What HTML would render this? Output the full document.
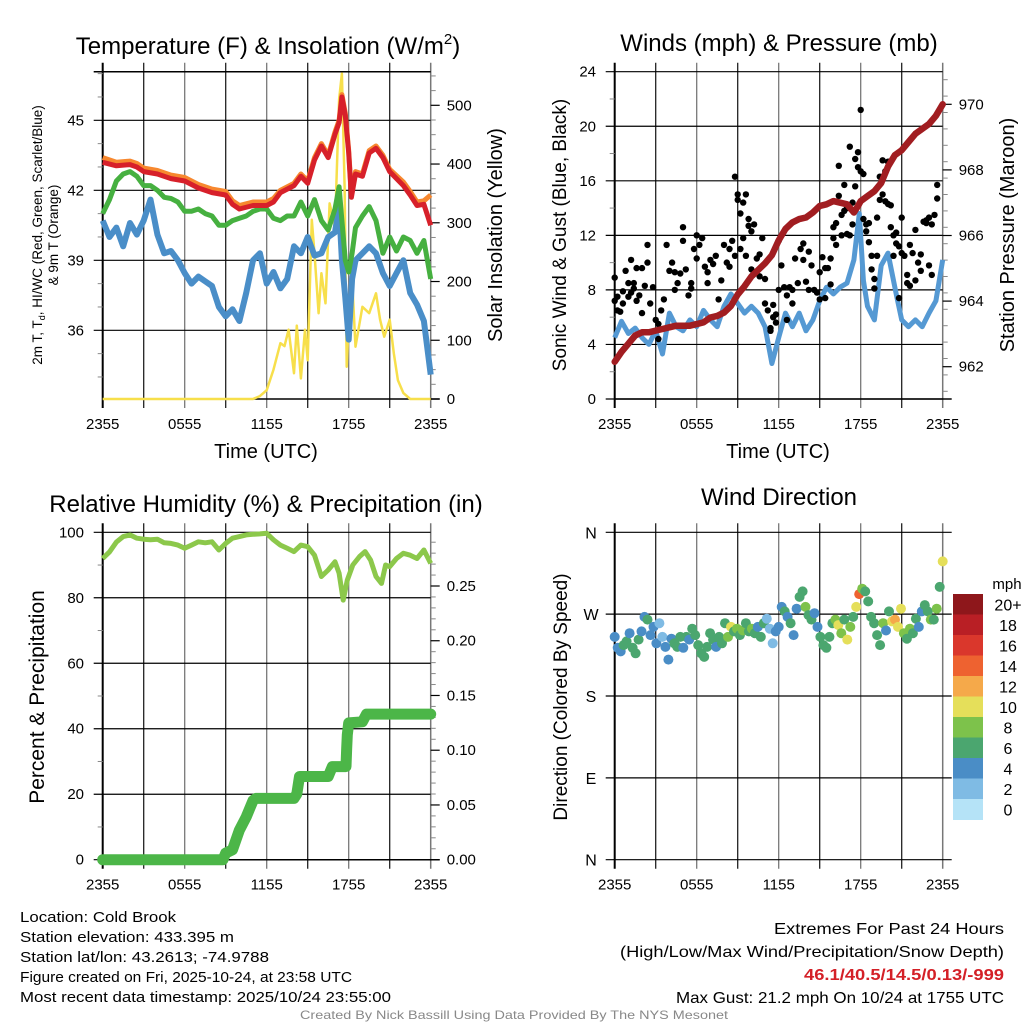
<!DOCTYPE html>
<html><head><meta charset="utf-8">
<style>
html,body{margin:0;padding:0;background:#fff;}
svg{display:block;font-family:"Liberation Sans",Helvetica,Arial,sans-serif;}
</style></head>
<body>
<svg id="chart" xmlns="http://www.w3.org/2000/svg" width="1024" height="1024" viewBox="0 0 1024 1024">
<rect x="0" y="0" width="1024" height="1024" fill="#fff"/>
</svg>
<script>
// ---------- DATA ----------
const xTickLabels = ["2355","0555","1155","1755","2355"];
const tempTicks = [36,39,42,45];
const solarTicks = [0,100,200,300,400,500];
const windTicks = [0,4,8,12,16,20,24];
const presTicks = [962,964,966,968,970];
const rhTicks = [0,20,40,60,80,100];
const precipTicks = [0.00,0.05,0.10,0.15,0.20,0.25];
const dirTickLabels = ["N","E","S","W","N"];
const dirTickValues = [0,90,180,270,360];
const cbLabels = ["0","2","4","6","8","10","12","14","16","18","20+"];
const cbColors = ["#b5e3f7","#7fbbe4","#4a8dc6","#4ba66f","#7dc24b","#e5df5a","#f5a94a","#ee6230","#da372c","#b91f25","#8e171b"];

const tempTimes = [0,1,2,2.5,3,4,5,6,7,8,9,9.5,10,11,12,12.5,13,14,14.5,15,15.5,16,16.5,17,17.3,17.5,17.75,18,18.2,18.5,19,19.5,20,20.5,21,22,22.5,23,23.5,24];
const tempRed = [43.2,43.05,43.1,43.0,42.8,42.7,42.5,42.4,42.1,41.9,41.8,41.4,41.2,41.35,41.35,41.5,41.9,42.2,42.6,42.3,43.3,43.9,43.4,44.4,44.9,46.0,45.2,43.6,41.7,42.7,42.6,43.6,43.8,43.4,42.8,42.2,41.8,41.35,41.4,40.5];
const tempOrange = [43.4,43.2,43.25,43.15,42.95,42.85,42.65,42.55,42.25,42.05,41.95,41.55,41.35,41.5,41.5,41.65,42.0,42.3,42.7,42.4,43.4,44.0,43.5,44.5,45.0,46.1,45.3,43.7,41.8,42.8,42.7,43.7,43.9,43.5,42.9,42.35,41.95,41.5,41.55,41.8];
const dewTimes = [0,0.5,1,1.5,2,2.5,3,3.5,4,4.5,5,5.5,6,6.5,7,7.5,8,8.5,9,9.5,10,10.5,11,11.5,12,12.5,13,13.5,14,14.5,15,15.5,16,16.5,17,17.3,17.5,17.75,18,18.25,18.5,19,19.5,20,20.5,21,21.5,22,22.5,23,23.5,24];
const dewGreen = [41.0,41.6,42.4,42.7,42.8,42.6,42.2,42.2,42.0,41.7,41.65,41.5,41.1,41.1,41.2,41.0,40.9,40.5,40.5,40.7,40.8,40.9,41.1,41.2,41.2,40.8,40.7,40.9,40.9,41.5,40.9,41.6,40.7,40.3,41.2,42.15,40.7,39.0,38.5,39.3,40.4,40.9,41.3,40.7,39.3,40.0,39.4,40.0,39.85,39.3,39.85,38.2];
const chillBlue = [40.7,40.0,40.4,39.6,40.6,40.1,40.7,41.6,40.1,39.3,39.4,39.0,38.45,38.0,38.3,38.1,37.9,37.0,36.6,36.9,36.4,37.6,39.0,39.3,38.0,38.5,37.8,38.2,39.6,39.3,40.0,39.2,39.3,40.0,40.2,41.3,39.0,37.4,35.6,38.2,39.0,39.3,39.6,39.3,38.45,37.9,38.45,39.0,37.6,37.1,36.4,34.1];
const solarTimes = [0,11,11.5,12,12.5,13,13.3,13.6,14,14.2,14.5,14.8,15,15.3,15.5,15.8,16,16.3,16.6,17,17.3,17.5,17.7,17.85,18,18.3,18.5,19,19.5,20,20.3,20.6,21,21.3,21.6,22,22.5,24];
const solarVals = [0,0,5,15,50,95,90,118,44,125,35,118,66,305,248,146,214,163,333,293,510,554,361,55,135,180,89,157,146,180,135,106,135,78,32,10,0,0];

const windTimes = [0,0.5,1,1.5,2,2.5,3,3.5,4,4.5,5,5.5,6,6.5,7,7.5,8,8.5,9,9.5,10,10.5,11,11.5,12,12.5,13,13.5,14,14.5,15,15.5,16,16.5,17,17.5,17.9,18.2,18.5,19,19.5,20,20.3,20.6,21,21.5,22,22.5,23,23.5,24];
const windVals = [4.5,5.7,4.8,5.2,4.5,4.0,5.0,3.3,6.3,5.3,5.0,5.8,5.3,6.5,5.8,5.3,6.8,7.7,7.0,6.3,6.8,6.3,5.3,2.6,4.5,6.3,5.3,6.3,5.0,5.8,7.2,8.2,7.7,8.2,8.5,10.2,13.6,8.7,6.8,5.8,9.8,10.7,9.2,7.7,5.8,5.3,5.8,5.3,6.3,7.2,10.2];
const gustTimes = [0,0,0.2,0.2,0.4,0.6,0.6,0.8,1.0,1.0,1.2,1.2,1.4,1.4,1.6,1.6,1.8,2.0,2.0,2.2,2.4,2.4,2.6,2.8,3.0,3.2,3.2,3.4,3.6,3.8,4.0,4.2,4.4,4.4,4.6,4.8,5.0,5.0,5.2,5.4,5.6,5.6,5.8,6.0,6.0,6.2,6.4,6.6,6.8,6.8,7.0,7.2,7.4,7.6,7.8,8.0,8.2,8.4,8.4,8.6,8.8,8.8,9.0,9.0,9.2,9.2,9.4,9.4,9.6,9.6,9.8,9.8,10.0,10.0,10.2,10.2,10.4,10.6,10.6,10.8,11.0,11.0,11.2,11.4,11.4,11.6,11.6,11.8,11.8,12.0,12.0,12.2,12.4,12.6,12.6,12.8,13.0,13.0,13.2,13.4,13.6,13.8,13.8,14.0,14.2,14.2,14.4,14.6,14.8,15.0,15.0,15.2,15.4,15.4,15.6,15.8,15.8,16.0,16.0,16.2,16.2,16.4,16.4,16.6,16.6,16.8,16.8,17.0,17.0,17.2,17.2,17.4,17.4,17.6,17.6,17.8,17.8,18.0,18.0,18.2,18.2,18.4,18.4,18.6,18.6,18.8,18.8,19.0,19.0,19.2,19.2,19.4,19.4,19.6,19.6,19.8,19.8,20.0,20.0,20.2,20.2,20.4,20.4,20.6,20.6,20.8,20.8,21.0,21.0,21.2,21.4,21.4,21.6,21.6,21.8,22.0,22.0,22.2,22.4,22.4,22.6,22.8,22.8,23.0,23.0,23.2,23.2,23.4,23.6,23.6];
const gustVals = [7.2,8.9,6.5,7.5,6.4,7.0,7.9,9.4,7.5,8.5,10.2,7.8,8.5,8.1,9.6,7.2,7.6,9.6,6.3,8.3,11.3,10.0,7.0,8.2,5.8,5.5,4.4,6.5,7.3,11.3,9.4,10.0,9.3,8.0,8.5,9.2,11.6,12.6,9.5,7.6,8.5,8.1,11.0,10.3,12.0,11.3,11.8,9.7,9.3,8.5,10.2,9.9,10.5,7.3,8.7,11.3,10.0,11.0,9.7,11.6,16.3,10.5,14.6,15.0,13.6,11.0,11.8,14.4,10.5,15.0,12.7,13.2,12.3,9.5,12.8,9.3,10.3,10.6,9.0,11.8,8.8,7.0,6.5,5.2,5.0,6.0,6.9,5.6,6.2,11.6,8.0,9.8,8.2,7.6,5.8,8.2,8.0,7.0,10.3,8.5,11.0,10.2,11.4,8.6,10.8,8.0,9.8,8.0,7.8,9.3,7.3,10.4,9.6,7.4,9.6,8.4,10.3,11.8,12.6,12.9,11.3,14.9,17.1,12.0,13.5,15.7,13.8,12.1,14.0,18.5,12.0,12.8,14.4,17.6,15.6,17.0,18.1,21.2,16.7,16.5,13.2,12.3,12.8,11.5,12.9,10.5,9.5,8.8,8.1,10.5,13.3,14.6,16.3,15.0,17.5,14.5,16.7,17.4,14.3,12.6,14.2,12.0,10.5,11.4,12.2,11.2,7.4,13.3,10.7,10.5,9.1,8.5,8.3,11.3,10.7,12.4,8.7,10.0,10.6,9.4,13.0,13.1,12.9,13.3,9.8,9.1,12.8,13.5,14.7,15.7];
const presTimes = [0,0.5,1,1.5,2,2.5,3,3.5,4,4.5,5,5.5,6,6.5,7,7.5,8,8.5,9,9.5,10,10.5,11,11.5,12,12.5,13,13.5,14,14.5,15,15.5,16,16.5,17,17.5,17.8,18,18.5,19,19.5,20,20.5,21,21.5,22,22.5,23,23.5,24];
const presVals = [962.15,962.45,962.7,962.95,963.05,963.05,963.1,963.15,963.2,963.25,963.25,963.25,963.3,963.35,963.5,963.55,963.65,963.85,964.2,964.45,964.75,964.95,965.15,965.4,965.85,966.2,966.4,966.5,966.55,966.7,966.9,966.95,967.05,967.0,966.95,966.7,966.9,967.05,967.2,967.35,967.6,968.1,968.45,968.6,968.85,969.1,969.25,969.4,969.65,970.0];

const rhTimes = [0,0.5,1,1.5,2,2.5,3,3.5,4,4.5,5,5.5,6,6.5,7,7.5,8,8.5,9,9.5,10,10.5,11,11.5,12,12.5,13,13.5,14,14.5,15,15.5,16,16.5,17,17.3,17.6,17.9,18.3,18.8,19.2,19.6,20,20.4,20.7,21,21.5,22,22.5,23,23.5,24];
const rhVals = [92,94,97,98.7,99.2,98.2,97.9,97.7,97.9,96.8,96.6,96.1,95.1,96.1,97.1,96.8,97.1,94.6,96.6,98.2,98.7,99.2,99.4,99.5,99.7,97.7,96.1,95.1,94.1,96.1,95.6,93,86.5,88.5,91,87.5,79.3,85.4,90,92.6,94.1,91.5,86.5,84.4,90,89.5,92,93.6,93,92,94.6,90.5];
const precipTimes = [0,8.8,9,9.5,10,10.5,11,11.2,14,14.2,14.4,16.5,16.8,17.8,17.85,17.9,18,19,19.3,24];
const precipVals = [0,0,0.006,0.009,0.027,0.039,0.054,0.056,0.056,0.06,0.076,0.076,0.085,0.085,0.102,0.114,0.125,0.126,0.133,0.133];

const dirVals = [245,233,229,236,240,249,233,227,242,251,267,264,247,256,238,260,245,234,220,243,238,234,245,233,245,242,254,247,236,227,223,234,249,242,234,245,238,260,245,256,251,254,247,252,260,251,254,249,256,245,260,265,254,238,251,256,278,273,267,260,247,276,289,295,278,269,264,271,256,245,236,233,245,260,264,258,249,264,242,256,267,278,292,298,295,284,267,260,247,236,260,252,273,262,264,256,276,249,243,254,249,265,256,273,280,273,264,264,276,300,328];
const dirSpeeds = [4,4,4,6,6,4,6,6,6,4,4,6,4,4,4,2,2,4,4,4,6,6,6,4,6,4,6,6,6,6,6,6,6,6,4,6,6,6,8,10,6,8,6,8,6,6,8,6,4,6,6,2,2,2,4,4,4,6,4,6,4,4,6,6,8,6,6,4,4,6,6,6,6,6,8,10,8,6,10,8,6,10,14,8,6,6,6,6,6,6,8,4,6,10,12,10,10,8,6,8,6,6,4,4,6,6,8,6,8,6,10];

// ---------- HELPERS ----------
const svg = document.getElementById('chart');
const NS = 'http://www.w3.org/2000/svg';
function mk(tag, attrs, parent){
  const e = document.createElementNS(NS, tag);
  for (const k in attrs) e.setAttribute(k, attrs[k]);
  (parent||svg).appendChild(e);
  return e;
}
function txt(s, x, y, size, anchor, parent, extra){
  const t = mk('text', Object.assign({x:x, y:y, 'font-size':size, 'text-anchor':anchor||'middle', fill:'#000'}, extra||{}), parent);
  t.textContent = s;
  return t;
}
function lin(d0,d1,r0,r1){ return v => r0 + (v-d0)/(d1-d0)*(r1-r0); }
function pathFrom(xs, ys, sx, sy){
  let d = '';
  for (let i=0;i<xs.length;i++) d += (i?'L':'M') + sx(xs[i]).toFixed(1) + ',' + sy(ys[i]).toFixed(1);
  return d;
}

function frame(P, g){
  for (let h=3; h<24; h+=3){
    const x = P.sx(h);
    const gl = mk('line',{x1:x,y1:P.T-9,x2:x,y2:P.B+9,stroke:(h%6===0)?'#777':'#222','stroke-width':1.3}, g);
    
    
  }
  xTickLabels.forEach((s,i)=>{
    const t = txt(s, P.sx(i*6), P.B+30, 15, 'middle', g);
    
    
  });
  const ll = mk('line',{x1:P.L,y1:P.T-9,x2:P.L,y2:P.B+9,stroke:'#000','stroke-width':2}, g);
   
  const rl = mk('line',{x1:P.R,y1:P.T-9,x2:P.R,y2:P.B+9,stroke:'#777','stroke-width':1.5}, g);
   
}
function hgrid(P, ys, labels, g, labelX){
  ys.forEach((y,i)=>{
    const l = mk('line',{x1:P.L-9,y1:y,x2:P.R,y2:y,stroke:'#000','stroke-width':1.2}, g);
     
    const t = txt(labels[i], labelX, y+5, 15, 'end', g);
     
  });
}
function rightTicks(P, ys, labels, g, minorYs){
  ys.forEach((y,i)=>{
    mk('line',{x1:P.R,y1:y,x2:P.R+9,y2:y,stroke:'#000','stroke-width':1.2}, g);
    const t = txt(labels[i], P.R+16, y+5, 15, 'start', g);
     
  });
  (minorYs||[]).forEach(y=>mk('line',{x1:P.R,y1:y,x2:P.R+5,y2:y,stroke:'#888','stroke-width':1}, g));
}
function rot(s, x, y, size, g, name){
  const t = txt(s, x, y, size, 'middle', g, {transform:'rotate(-90 '+x+' '+y+')'});
   
  return t;
}
function leftMinor(P, ys, g){ ys.forEach(y=>mk('line',{x1:P.L-5,y1:y,x2:P.L,y2:y,stroke:'#888','stroke-width':1}, g)); }

// ---------- PANEL 1: Temperature ----------
(function(){
  const P = {L:102.7,R:430.7,T:71.7,B:399};
  P.sx = lin(0,24,P.L,P.R);
  const sy = lin(36,45,330.3,120.3);
  const sSol = lin(0,500,399,105.3);
  const g = mk('g',{});  
  frame(P,g);
  hgrid(P, tempTicks.map(sy), tempTicks.map(String), g, 84);
  mk('line',{x1:P.L-9,y1:P.T,x2:P.R,y2:P.T,stroke:'#000','stroke-width':1.5},g);
  mk('line',{x1:P.L,y1:P.B,x2:P.R+9,y2:P.B,stroke:'#000','stroke-width':1.5},g);
  leftMinor(P, [34,35,37,38,40,41,43,44,46,47].map(sy), g);
  const rm=[]; for(let v=25; v<=550; v+=25){ if(v%100) rm.push(sSol(v)); }
  rightTicks(P, solarTicks.map(sSol), solarTicks.map(String), g, rm);
  const sol = mk('path',{d:pathFrom(solarTimes,solarVals,P.sx,sSol),fill:'none',stroke:'#f7df4b','stroke-width':2.5,'stroke-linejoin':'round'},g);
   
  const bl = mk('path',{d:pathFrom(dewTimes,chillBlue,P.sx,sy),fill:'none',stroke:'#4a8ec8','stroke-width':6,'stroke-linejoin':'round'},g);
   
  const gr = mk('path',{d:pathFrom(dewTimes,dewGreen,P.sx,sy),fill:'none',stroke:'#46b040','stroke-width':5,'stroke-linejoin':'round'},g);
   
  const or = mk('path',{d:pathFrom(tempTimes,tempOrange,P.sx,sy),fill:'none',stroke:'#f7882f','stroke-width':5,'stroke-linejoin':'round'},g);
   
  const rd = mk('path',{d:pathFrom(tempTimes,tempRed,P.sx,sy),fill:'none',stroke:'#d7202a','stroke-width':5,'stroke-linejoin':'round'},g);
   
  const t = mk('text',{x:268,y:54,'font-size':24,'text-anchor':'middle'},g);
  t.innerHTML = 'Temperature (F) &amp; Insolation (W/m<tspan font-size="15" dy="-10">2</tspan><tspan dy="10">)</tspan>';
   
  const xt = txt('Time (UTC)', 266, 458, 20, 'middle', g);  
  const l1 = mk('text',{x:42,y:235,'font-size':13.5,'text-anchor':'middle',transform:'rotate(-90 42 235)'},g);
  l1.innerHTML = '2m T, T<tspan font-size="9" dy="3">d</tspan><tspan dy="-3">, HI/WC (Red, Green, Scarlet/Blue)</tspan>';
   
  rot('& 9m T (Orange)', 58, 235, 13.5, g, 'temperature-axis-title-line2');
  rot('Solar Insolation (Yellow)', 502, 235, 20, g, 'solar-axis-title');
})();

// ---------- PANEL 2: Winds ----------
(function(){
  const P = {L:614.7,R:942.7,T:71.7,B:399};
  P.sx = lin(0,24,P.L,P.R);
  const sy = lin(0,24,399,71.7);
  const sp = lin(962,970,366.7,104.3);
  const g = mk('g',{});  
  frame(P,g);
  hgrid(P, windTicks.map(sy), windTicks.map(String), g, 596);
  mk('line',{x1:P.L,y1:P.B,x2:P.R+9,y2:P.B,stroke:'#000','stroke-width':1.5},g);
  leftMinor(P, [2,6,10,14,18,22].map(sy), g);
  const rm=[]; for(let v=961.25; v<=971; v+=0.5){ rm.push(sp(v)); }
  rightTicks(P, presTicks.map(sp), presTicks.map(String), g, rm);
  const w = mk('path',{d:pathFrom(windTimes,windVals,P.sx,sy),fill:'none',stroke:'#5599d3','stroke-width':5,'stroke-linejoin':'round'},g);
   
  for (let i=0;i<gustVals.length;i++){
    const c = mk('circle',{cx:P.sx(gustTimes[i]).toFixed(1),cy:sy(gustVals[i]).toFixed(1),r:3.2,fill:'#000'},g);
    
    
  }
  const p = mk('path',{d:pathFrom(presTimes,presVals,P.sx,sp),fill:'none',stroke:'#a11d21','stroke-width':6.5,'stroke-linejoin':'round','stroke-linecap':'round'},g);
   
  const t = txt('Winds (mph) & Pressure (mb)', 779, 51, 24, 'middle', g);  
  const xt = txt('Time (UTC)', 778, 458, 20, 'middle', g);  
  rot('Sonic Wind & Gust (Blue, Black)', 566, 235, 19, g, 'wind-axis-title');
  rot('Station Pressure (Maroon)', 1014, 235, 20, g, 'pressure-axis-title');
})();

// ---------- PANEL 3: RH & Precip ----------
(function(){
  const P = {L:102.7,R:430.7,T:532.3,B:859.7};
  P.sx = lin(0,24,P.L,P.R);
  const sy = lin(0,100,859.7,532.3);
  const sr = lin(0,0.25,859.7,586);
  const g = mk('g',{});  
  frame(P,g);
  hgrid(P, rhTicks.map(sy), rhTicks.map(String), g, 84);
  mk('line',{x1:P.L,y1:P.B,x2:P.R+9,y2:P.B,stroke:'#000','stroke-width':1.5},g);
  leftMinor(P, [10,30,50,70,90].map(sy), g);
  const rm=[]; for(let v=0.01; v<0.30; v+=0.01){ if(Math.abs(v*20-Math.round(v*20))>0.01) rm.push(sr(v)); }
  rightTicks(P, precipTicks.map(sr), precipTicks.map(v=>v.toFixed(2)), g, rm);
  const rh = mk('path',{d:pathFrom(rhTimes,rhVals,P.sx,sy),fill:'none',stroke:'#8cc84b','stroke-width':5,'stroke-linejoin':'round'},g);
   
  const pr = mk('path',{d:pathFrom(precipTimes,precipVals,P.sx,sr),fill:'none',stroke:'#4cb648','stroke-width':11,'stroke-linejoin':'round','stroke-linecap':'round'},g);
   
  const t = txt('Relative Humidity (%) & Precipitation (in)', 266, 512, 24, 'middle', g);  
  rot('Percent & Precipitation', 44, 697, 21, g, 'percent-axis-title');
})();

// ---------- PANEL 4: Wind direction ----------
(function(){
  const P = {L:614.7,R:942.7,T:532.3,B:859.7};
  P.sx = lin(0,24,P.L,P.R);
  const sy = lin(0,360,859.7,532.3);
  const g = mk('g',{});  
  frame(P,g);
  dirTickValues.forEach((v,i)=>{
    const y = sy(v);
    const l = mk('line',{x1:P.L-9,y1:y,x2:P.R+9,y2:y,stroke:'#000','stroke-width':1.2},g);
     
    const t = txt(dirTickLabels[i], 591, y+6, 16, 'middle', g);
     
  });
  const n = dirVals.length;
  for (let i=0;i<n;i++){
    const bin = Math.min(10, Math.floor(dirSpeeds[i]/2));
    const c = mk('circle',{cx:P.sx(i*24/(n-1)).toFixed(1),cy:sy(dirVals[i]).toFixed(1),r:5,fill:cbColors[bin]},g);
    
    
  }
  const cb = mk('g',{},g);  
  const top = 594, h = 20.5;
  for (let i=0;i<cbColors.length;i++){
    const k = cbColors.length-1-i;
    const r = mk('rect',{x:953,y:top+i*h,width:30,height:h+0.5,fill:cbColors[k]},cb);
     
    const t = txt(cbLabels[k], 1008, top+i*h+h/2+6, 16, 'middle', cb);
     
  }
  const u = txt('mph', 1007, 589, 15, 'middle', cb);  
  const t = txt('Wind Direction', 779, 505, 24, 'middle', g);  
  rot('Direction (Colored By Speed)', 567, 697, 19, g, 'direction-axis-title');
})();

// ---------- FOOTER TEXT ----------
(function(){
  const g = mk('g',{});  
  const lines = ['Location: Cold Brook','Station elevation: 433.395 m','Station lat/lon: 43.2613; -74.9788','Figure created on Fri, 2025-10-24, at 23:58 UTC','Most recent data timestamp: 2025/10/24 23:55:00'];
  const lens = [156,214,249,332,371];
  lines.forEach((s,i)=>{
    const t = txt(s, 20, 922+i*20, 15, 'start', g, {textLength:lens[i], lengthAdjust:'spacingAndGlyphs'});
     
  });
  const g2 = mk('g',{});  
  const r1 = txt('Extremes For Past 24 Hours', 1004, 934, 16, 'end', g2, {textLength:230, lengthAdjust:'spacingAndGlyphs'});
   
  const r2 = txt('(High/Low/Max Wind/Precipitation/Snow Depth)', 1004, 957, 16, 'end', g2, {textLength:384, lengthAdjust:'spacingAndGlyphs'});
   
  const r3 = txt('46.1/40.5/14.5/0.13/-999', 1004, 980, 16, 'end', g2, {fill:'#d42027','font-weight':'bold', textLength:200, lengthAdjust:'spacingAndGlyphs'});
   
  const r4 = txt('Max Gust: 21.2 mph On 10/24 at 1755 UTC', 1004, 1003, 16, 'end', g2, {textLength:328, lengthAdjust:'spacingAndGlyphs'});
   
  const f = txt('Created By Nick Bassill Using Data Provided By The NYS Mesonet', 514, 1019, 12, 'middle', svg, {fill:'#888', textLength:428, lengthAdjust:'spacingAndGlyphs'});
   
})();
</script>
</body></html>
